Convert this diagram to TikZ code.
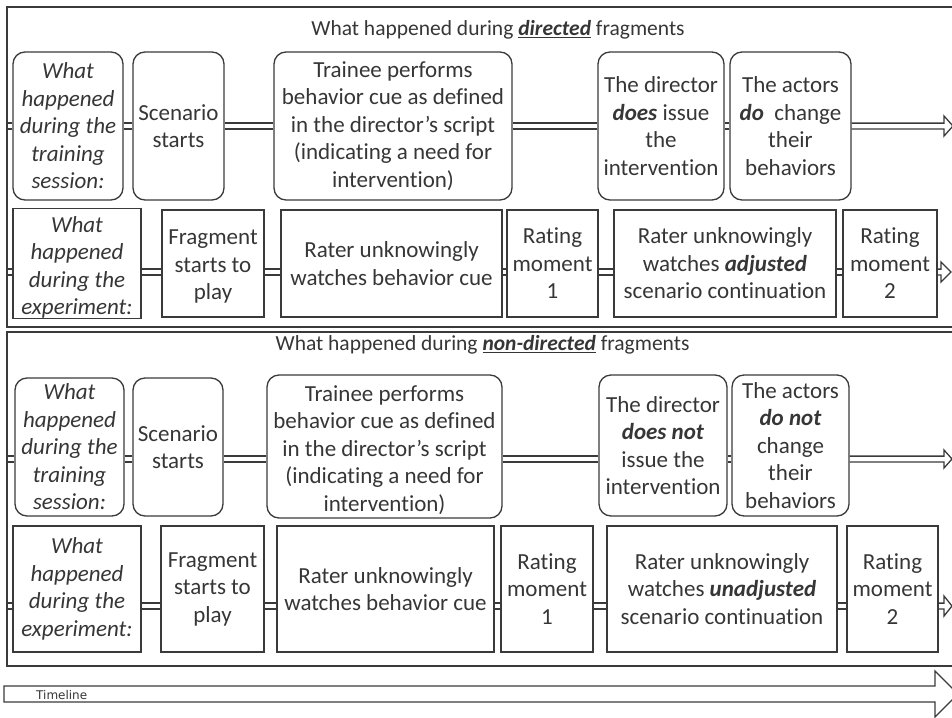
\documentclass[tikz,border=0pt]{standalone}
\usepackage{fontspec}
\setmainfont{Carlito}[Ligatures=NoCommon]
\newfontfamily\tlfont{DejaVu Sans}
\usetikzlibrary{backgrounds}
\definecolor{linec}{HTML}{3A3A3A}
\definecolor{textc}{HTML}{363636}
\newcommand\bi[1]{\textbf{\textit{#1}}}
% taller first line: pushes a centred text block a little down
\newcommand\lowstrut[1]{\rule{0pt}{#1}}
\begin{document}
\begin{tikzpicture}[x=1pt,y=-1pt,
  ln/.style={draw=linec, line width=1.3pt},
  conn/.style={draw=linec, line width=1.3pt, double=white, double distance=4.5pt},
  boxtxt/.style={align=center, inner sep=0pt, text=textc, font=\fontsize{23}{27.5}\selectfont},
  rbox/.style={ln, boxtxt, rounded corners=12pt},
  sbox/.style={ln, boxtxt},
  ital/.style={font=\fontsize{23}{27.5}\selectfont\itshape},
  ttl/.style={anchor=base, text=textc, inner sep=0pt, font=\fontsize{21.5}{26}\selectfont},
]
\useasboundingbox (0,0) rectangle (952,717);

% section frames (open on the right)
\draw[ln] (952,7) -- (7,7) -- (7,327) -- (952,327);
\draw[ln] (952,332) -- (7,332) -- (7,666) -- (952,666);

% titles
\node[ttl] (t1) at (498,36) {What happened during \underline{\bi{directed}} fragments};
\node[ttl] (t2) at (482.5,350.5) {What happened during \underline{\bi{non-directed}} fragments};

% ---- directed: training session row
\node[rbox, ital, minimum width=110pt, minimum height=148pt] (A) at (68,126) {What\\happened\\during the\\training\\session:};
\node[rbox, minimum width=91pt, minimum height=148pt] (B) at (178.5,126) {Scenario\\starts};
\node[rbox, minimum width=238pt, minimum height=148pt] (C) at (393,126) {Trainee performs\\behavior cue as defined\\in the director’s script\\(indicating a need for\\intervention)};
\node[rbox, minimum width=126pt, minimum height=148pt] (D) at (661,126) {The director\\\bi{does} issue\\the\\intervention};
\node[rbox, minimum width=121pt, minimum height=148pt] (E) at (790.5,126) {The actors\\\bi{do}\ \ change\\their\\behaviors};

% ---- directed: experiment row
\node[sbox, ital, minimum width=128pt, minimum height=107pt] (F) at (77,263.5) {\lowstrut{24pt}What\\happened\\during the\\experiment:};
\node[sbox, minimum width=102pt, minimum height=107pt] (G) at (213,263.5) {\lowstrut{21pt}Fragment\\starts to\\play};
\node[sbox, minimum width=221pt, minimum height=107pt] (H) at (391.5,263.5) {Rater unknowingly\\watches behavior cue};
\node[sbox, minimum width=91pt, minimum height=107pt] (I) at (552.5,263.5) {Rating\\moment\\1};
\node[sbox, minimum width=222pt, minimum height=107pt] (J) at (725,263.5) {Rater unknowingly\\watches \bi{adjusted}\\scenario continuation};
\node[sbox, minimum width=94pt, minimum height=107pt] (K) at (890,263.5) {Rating\\moment\\2};

% ---- non-directed: training session row
\node[rbox, ital, minimum width=109pt, minimum height=138pt] (A2) at (69.5,447) {What\\happened\\during the\\training\\session:};
\node[rbox, minimum width=90pt, minimum height=138pt] (B2) at (178,447) {Scenario\\starts};
\node[rbox, minimum width=235pt, minimum height=143pt] (C2) at (384.5,446.5) {\lowstrut{23pt}Trainee performs\\behavior cue as defined\\in the director’s script\\(indicating a need for\\intervention)};
\node[rbox, minimum width=128pt, minimum height=141pt] (D2) at (663,445.5) {The director\\\bi{does not}\\issue the\\intervention};
\node[rbox, minimum width=117pt, minimum height=141pt] (E2) at (790.5,445.5) {The actors\\\bi{do not}\\change\\their\\behaviors};

% ---- non-directed: experiment row
\node[sbox, ital, minimum width=128pt, minimum height=126pt] (F2) at (77,589) {What\\happened\\during the\\experiment:};
\node[sbox, minimum width=103pt, minimum height=126pt] (G2) at (212.5,589) {Fragment\\starts to\\play};
\node[sbox, minimum width=217pt, minimum height=126pt] (H2) at (385.5,589) {Rater unknowingly\\watches behavior cue};
\node[sbox, minimum width=92pt, minimum height=126pt] (I2) at (547,589) {Rating\\moment\\1};
\node[sbox, minimum width=230pt, minimum height=126pt] (J2) at (722,589) {Rater unknowingly\\watches \bi{unadjusted}\\scenario continuation};
\node[sbox, minimum width=91pt, minimum height=126pt] (K2) at (892.5,589) {Rating\\moment\\2};

% free ends of the row connectors
\coordinate (s1t) at (7,126);
\coordinate (s1b) at (7,272);
\coordinate (s2t) at (7,459);
\coordinate (s2b) at (7,606);
\coordinate (e1t) at (944,126);
\coordinate (e1b) at (941,272);
\coordinate (e2t) at (944,459);
\coordinate (e2b) at (944,606);

% double-line connectors, kept behind the boxes and frames
\begin{pgfonlayer}{background}
\draw[conn] (s1t) -- (A.west);
\draw[conn] (A) -- (B);
\draw[conn] (B) -- (C);
\draw[conn] (C) -- (D);
\draw[conn] (D) -- (E);

\draw[conn] (s1b) -- ([yshift=-8.5pt]F.west);
\draw[conn] ([yshift=-8.5pt]F.east) -- ([yshift=-8.5pt]G.west);
\draw[conn] ([yshift=-8.5pt]G.east) -- ([yshift=-8.5pt]H.west);
\draw[conn] ([yshift=-8.5pt]H.east) -- ([yshift=-8.5pt]I.west);
\draw[conn] ([yshift=-8.5pt]I.east) -- ([yshift=-8.5pt]J.west);
\draw[conn] ([yshift=-8.5pt]J.east) -- ([yshift=-8.5pt]K.west);

\draw[conn] (s2t) -- ([yshift=-12pt]A2.west);
\draw[conn] ([yshift=-12pt]A2.east) -- ([yshift=-12pt]B2.west);
\draw[conn] ([yshift=-12pt]B2.east) -- ([yshift=-12.5pt]C2.west);
\draw[conn] ([yshift=-12.5pt]C2.east) -- ([yshift=-13.5pt]D2.west);
\draw[conn] ([yshift=-13.5pt]D2.east) -- ([yshift=-13.5pt]E2.west);

\draw[conn] (s2b) -- ([yshift=-17pt]F2.west);
\draw[conn] ([yshift=-17pt]F2.east) -- ([yshift=-17pt]G2.west);
\draw[conn] ([yshift=-17pt]G2.east) -- ([yshift=-17pt]H2.west);
\draw[conn] ([yshift=-17pt]H2.east) -- ([yshift=-17pt]I2.west);
\draw[conn] ([yshift=-17pt]I2.east) -- ([yshift=-17pt]J2.west);
\draw[conn] ([yshift=-17pt]J2.east) -- ([yshift=-17pt]K2.west);
\end{pgfonlayer}

% open block arrows leaving each row
\draw[ln] ([yshift=2.9pt]E.east) -- ([yshift=2.9pt]e1t) -- ([yshift=10pt]e1t) -- ([xshift=9pt]e1t)
  -- ([yshift=-10pt]e1t) -- ([yshift=-2.9pt]e1t) -- ([yshift=-2.9pt]E.east);
\draw[ln] ([yshift=-5.6pt]K.east) -- ([yshift=2.9pt]e1b) -- ([yshift=10pt]e1b) -- ([xshift=10pt]e1b)
  -- ([yshift=-10pt]e1b) -- ([yshift=-2.9pt]e1b) -- ([yshift=-11.4pt]K.east);
\draw[ln] ([yshift=-10.6pt]E2.east) -- ([yshift=2.9pt]e2t) -- ([yshift=9pt]e2t) -- ([xshift=8pt]e2t)
  -- ([yshift=-9pt]e2t) -- ([yshift=-2.9pt]e2t) -- ([yshift=-16.4pt]E2.east);
\draw[ln] ([yshift=-14.1pt]K2.east) -- ([yshift=2.9pt]e2b) -- ([yshift=10pt]e2b) -- ([xshift=8pt]e2b)
  -- ([yshift=-10pt]e2b) -- ([yshift=-2.9pt]e2b) -- ([yshift=-19.9pt]K2.east);

% timeline arrow
\draw[ln] (4,686) -- (935,686) -- (935,671) -- (958,694) -- (935,717) -- (935,702) -- (4,702) -- cycle;
\node[anchor=base west, text=textc, inner sep=0pt, font=\tlfont\fontsize{12}{14}\selectfont] (tl) at (36,699) {Timeline};
\end{tikzpicture}
\end{document}
